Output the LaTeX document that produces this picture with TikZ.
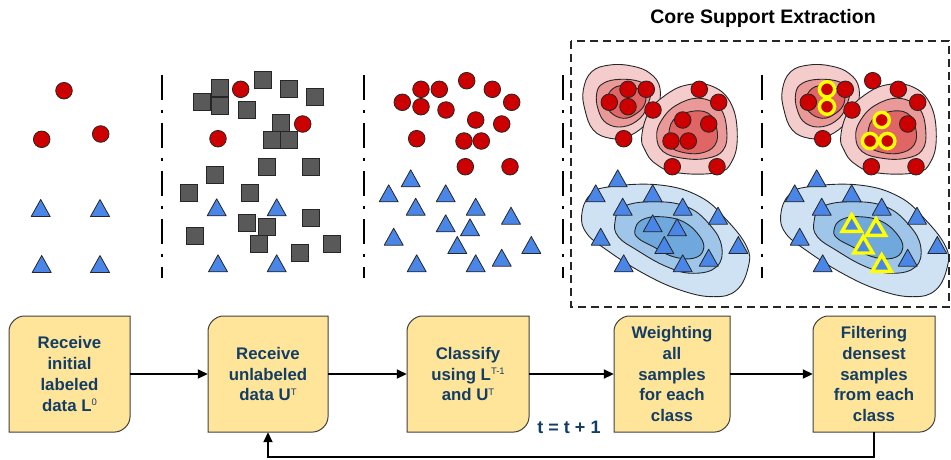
\documentclass[tikz,border=0pt]{standalone}
\usepackage{fontspec}
\setmainfont{Liberation Sans}
\usetikzlibrary{arrows.meta}

\definecolor{boxfill}{HTML}{FFE599}
\definecolor{boxline}{HTML}{404040}
\definecolor{boxtext}{HTML}{143D66}
\definecolor{ptred}{HTML}{CC0000}
\definecolor{ptblue}{HTML}{4A86E8}
\definecolor{ptgray}{HTML}{595959}
\definecolor{ptedge}{HTML}{262626}
\definecolor{redA}{HTML}{F4CCCC}
\definecolor{redB}{HTML}{EA9999}
\definecolor{redC}{HTML}{E06666}
\definecolor{blueA}{HTML}{CFE2F3}
\definecolor{blueB}{HTML}{9FC5E8}
\definecolor{blueC}{HTML}{6FA8DC}
\definecolor{hilite}{HTML}{FFFF00}

% small superscript used in the box labels
\newcommand{\sups}[1]{\raisebox{5.6pt}{\fontsize{9.5}{9.5}\selectfont\mdseries #1}}

% sample markers
\newcommand{\tri}[3][]{\draw[tristyle,#1] (#2-9.5,#3+8.5) -- (#2,#3-8.5) -- (#2+9.5,#3+8.5) -- cycle;}
\newcommand{\rdot}[3][]{\draw[dotstyle,#1] (#2,#3) circle[radius=8.3];}
\newcommand{\sq}[2]{\draw[sqstyle] (#1-8.5,#2-8.5) rectangle (#1+8.5,#2+8.5);}

% process box: rounded top-left and bottom-right corners
\newcommand{\flowbox}[4]{%
  \path[boxshape] (#2,432) -- (#2,331) .. controls (#2,322.7) and (#2+8.3,316) .. (#2+15,316)
    -- (#3,316) -- (#3,417) .. controls (#3,425.3) and (#3-8.3,432) .. (#3-15,432) -- cycle;
  \node[boxlabel, minimum width=#3-#2, minimum height=116] (#1) at ({(#2+#3)/2},374) {#4};
}

% point sets shared by the classified panels
\def\redpts{421/89.3, 439.3/89.3, 492.3/89.3, 402.3/102.3, 421/106.7, 446/110, 511.7/102.3,
  475.7/120, 501.7/124, 416.7/138.7, 464/141, 481.3/141, 465.3/166.7, 510/166.7}
\def\bluepts{410.7/178.3, 388.7/193.3, 445.7/193.3, 415.7/206.7, 475.7/206.7, 511/215.7,
  445.7/223.3, 470/227.3, 393.7/236.7, 457.3/245, 531.3/245, 416.7/263.3, 475.7/263.3, 501.7/257.7}

\begin{document}
\begin{tikzpicture}[x=1pt, y=-1pt,
  tristyle/.style={fill=ptblue, draw=ptedge, line width=0.8pt, line join=round},
  dotstyle/.style={fill=ptred, draw=ptedge, line width=0.8pt},
  sqstyle/.style={fill=ptgray, draw=ptedge, line width=0.8pt},
  ringdot/.style={fill=ptred, draw=hilite, line width=3.4pt},
  ringtri/.style={draw=hilite, line width=3.4pt},
  contour/.style={draw=ptedge, line width=0.9pt},
  separator/.style={draw=black, line width=2.7pt, dash pattern=on 25pt off 10pt on 2.5pt off 10.5pt},
  frame/.style={draw=ptedge, line width=1.8pt, dash pattern=on 8pt off 5pt},
  boxshape/.style={fill=boxfill, draw=boxline, line width=1pt},
  boxlabel/.style={inner sep=0pt, align=center, text=boxtext,
    font=\fontsize{16.8}{20.8}\selectfont\bfseries},
  flow/.style={draw=black, line width=1.8pt, -{Triangle[length=10pt,width=9pt]}}
]
\useasboundingbox (0,0) rectangle (951,459);

% ---------- panel separators ----------
\foreach \sx in {162,364,563,762}
  \draw[separator] (\sx,75) -- (\sx,278);

% ---------- panel 1: initial labeled data ----------
\rdot{64}{90.7} \rdot{41.7}{139.3} \rdot{100.7}{134}
\tri{40.7}{208} \tri{100}{208} \tri{41.7}{264} \tri{100}{264}

% ---------- panel 2: unlabeled data arrives ----------
\foreach \x/\y in {220.3/88.3, 201.7/102.3, 220.3/106, 263.3/80, 289.3/88.7, 315.3/97.3,
  247.3/110, 280.7/123.3, 272/140, 289.3/140, 215.3/175.3, 267.3/166.7, 310.7/166.7,
  189.3/192.7, 250/192.7, 247.3/222.7, 267.3/227.3, 310.7/218.3, 194.7/236,
  258.7/244.3, 300/252.7, 331.7/244.3}
  {\sq{\x}{\y}}
\rdot{240.7}{89.3} \rdot{302.7}{124} \rdot{218}{138.7}
\tri{216.7}{207.3} \tri{276.7}{207.3} \tri{218}{263.3} \tri{276.7}{263.3}

% ---------- panel 3: classified samples ----------
\foreach \x/\y in \redpts {\rdot{\x}{\y}}
\rdot{466.7}{80.7}
\foreach \x/\y in \bluepts {\tri{\x}{\y}}

% ---------- density contours (panels 4 and 5) ----------
\foreach \s in {0,199}{
\begin{scope}[xshift=\s]
  \draw[contour, fill=redA] plot[smooth cycle, tension=0.7] coordinates {(583.3,90) (591.7,71.7) (610,65) (631.7,66) (650,73.3) (660,88.3) (656.7,110) (643.3,126.7) (626.7,136.7) (610,138.3) (593.3,130) (585,110)};
  \draw[contour, fill=redB] plot[smooth cycle, tension=0.7] coordinates {(596.7,93.3) (603.3,83.3) (620,79.3) (640,81.7) (650,90) (648.3,103.3) (640,118.3) (623.3,126.7) (606.7,123.3) (598.3,110)};
  \draw[contour, fill=redC] plot[smooth cycle, tension=0.7] coordinates {(606.7,100) (613.3,88.3) (626.7,86) (643.3,91.7) (645,103.3) (636.7,113.3) (623.3,118.3) (610,111.7)};
  \draw[contour, fill=redA] plot[smooth cycle, tension=0.7] coordinates {(641.7,136.7) (648.3,113.3) (663.3,96.7) (686.7,85) (713.3,86.7) (731.7,105) (737.3,136.7) (731.7,161.7) (716.7,172.7) (676.7,172.7) (655,163.3) (645,150)};
  \draw[contour, fill=redB] plot[smooth cycle, tension=0.7] coordinates {(656.7,136.7) (661.7,120) (676.7,105) (700,98.3) (720,108.3) (726.7,130) (723.3,150) (706.7,158.3) (683.3,158.3) (663.3,151.7)};
  \draw[contour, fill=redC] plot[smooth cycle, tension=0.7] coordinates {(668.3,136.7) (673.3,120) (690,111.7) (708.3,113.3) (716.7,128.3) (715,145) (700,153.3) (680,151.7) (668.3,145)};
  \draw[contour, fill=blueA] plot[smooth cycle, tension=0.7] coordinates {(581.7,215) (590,195) (610,186.7) (660,185) (700,196.7) (726.7,220) (746.7,246.7) (748.3,266.7) (736.7,290) (713.3,296.7) (680,290) (643.3,273.3) (606.7,250) (586.7,233.3)};
  \draw[contour, fill=blueB] plot[smooth cycle, tension=0.7] coordinates {(615,221.7) (623.3,206.7) (653.3,201.7) (686.7,206.7) (710,225) (721.7,246.7) (716.7,266.7) (693.3,273.3) (666.7,266.7) (636.7,250) (618.3,236.7)};
  \draw[contour, fill=blueC] plot[smooth cycle, tension=0.7] coordinates {(635,230) (641.7,220) (660,216.7) (683.3,221.7) (700,236.7) (703.3,250) (693.3,258.3) (673.3,256.7) (653.3,246.7) (638.3,238.3)};
\end{scope}
}

% ---------- panel 4: weighted samples ----------
\foreach \x/\y in \redpts {\rdot{\x+207}{\y}}
\foreach \x/\y in \bluepts {\tri{\x+207}{\y}}

% ---------- panel 5: densest samples highlighted ----------
\foreach \x/\y in \redpts {\rdot{\x+406}{\y}}
\rdot{872.7}{80.7}
\foreach \x/\y in \bluepts {\tri{\x+406}{\y}}
\foreach \x/\y in {421/89.3, 421/106.7, 475.7/120, 464/141, 481.3/141}
  {\draw[ringdot] (\x+406,\y) circle[radius=7.6];}
\foreach \x/\y in {445.7/223.3, 470/227.3, 457.3/245, 475.7/263.3}
  {\draw[ringtri, fill=ptblue, line join=miter] (\x+406-9.5,\y+8) -- (\x+406,\y-8.5) -- (\x+406+9.5,\y+8) -- cycle;}

% ---------- core support extraction frame ----------
\draw[frame] (571,41) rectangle (949,307);
\node[font=\fontsize{19.5}{22}\selectfont\bfseries] (title) at (763,18) {Core Support Extraction};

% ---------- process flow ----------
\flowbox{b1}{9}{130}{Receive\\initial\\labeled\\data L\sups{0}}
\flowbox{b2}{208}{328}{Receive\\unlabeled\\data U\sups{T}}
\flowbox{b3}{407}{529}{Classify\\using L\sups{T-1}\\and U\sups{T}}
\flowbox{b4}{614}{730}{Weighting\\all\\samples\\for each\\class}
\flowbox{b5}{813}{935}{Filtering\\densest\\samples\\from each\\class}

\draw[flow] (b1.east) -- (b2.west);
\draw[flow] (b2.east) -- (b3.west);
\draw[flow] (b3.east) -- (b4.west);
\draw[flow] (b4.east) -- (b5.west);
\draw[flow] (b5.south) -- ++(0,25) -| (b2.south);

\node[text=boxtext, font=\fontsize{18}{20}\selectfont\bfseries] (step) at (569,427) {t = t + 1};
\end{tikzpicture}
\end{document}
